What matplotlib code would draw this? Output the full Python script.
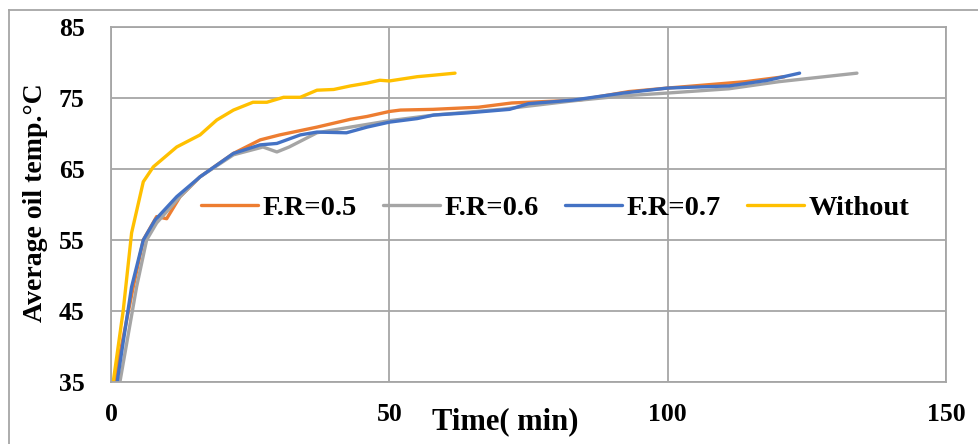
import matplotlib
matplotlib.use("Agg")
import matplotlib.pyplot as plt
from matplotlib.lines import Line2D

# time (min) / average oil temperature (deg C)
t_05 = [0.6, 4, 5.8, 8.2, 10, 12.4, 16, 22, 26.8, 30.3, 37, 43, 46, 50, 52,
        57.8, 66, 72, 84, 93, 100, 114, 121]
T_05 = [35, 48.4, 55, 58.3, 58.0, 61.1, 63.9, 67.2, 69.1, 69.8, 70.9, 72.0,
        72.4, 73.1, 73.3, 73.4, 73.7, 74.3, 74.7, 75.9, 76.4, 77.3, 78.0]

t_06 = [1.6, 4.6, 6.4, 8.2, 12.4, 16, 22, 27.3, 29.8, 32, 37, 43, 50, 58,
        70, 83, 92, 100, 111, 120, 134]
T_06 = [35, 48.4, 55, 57.4, 61.1, 63.9, 67.0, 68.1, 67.4, 68.1, 70.1, 70.9,
        71.8, 72.6, 73.4, 74.6, 75.3, 75.7, 76.3, 77.3, 78.5]

t_07 = [1.1, 3.7, 5.8, 7.9, 11.8, 16, 22, 26.8, 29.8, 34, 37, 42.3, 46, 50,
        55, 58, 64, 71.6, 75, 83, 92, 100, 111, 118, 123.7]
T_07 = [35, 48.4, 55, 57.8, 61.1, 63.9, 67.2, 68.4, 68.6, 69.8, 70.2, 70.1,
        70.9, 71.6, 72.1, 72.6, 72.9, 73.4, 74.2, 74.7, 75.7, 76.4, 76.7,
        77.5, 78.5]

t_wo = [0.4, 2.2, 3.7, 5.8, 7.6, 11.8, 16, 19, 22, 25.5, 28, 31, 34, 37, 40,
        43, 46, 48.3, 50, 55, 57.8, 61.8]
T_wo = [35, 45.1, 56, 63.2, 65.3, 68.1, 69.8, 71.9, 73.3, 74.4, 74.4, 75.1,
        75.1, 76.1, 76.2, 76.7, 77.1, 77.5, 77.4, 78.0, 78.2, 78.5]

labels = ["F.R=0.5", "F.R=0.6", "F.R=0.7", "Without"]
colors = ["#ED7D31", "#A5A5A5", "#4472C4", "#FFC000"]

font = "Liberation Serif"
grid_c = "#a6a6a6"

fig = plt.figure(figsize=(9.79, 4.44), dpi=100)
ax = fig.add_axes([111/979, 1-382/444, 835/979, 355/444])

series = [(t_05, T_05), (t_06, T_06), (t_07, T_07), (t_wo, T_wo)]
for (x, y), lab, c in zip(series, labels, colors):
    ax.plot(x, y, color=c, lw=2.4, label=lab, solid_capstyle="round")

ax.set_xlim(0, 150)
ax.set_ylim(35, 85)
ax.set_xticks([0, 50, 100, 150])
ax.set_yticks([35, 45, 55, 65, 75, 85])
ax.grid(True, color=grid_c, lw=1.3)
ax.set_axisbelow(True)
for s in ax.spines.values():
    s.set_color(grid_c)
    s.set_linewidth(1.3)
ax.tick_params(axis="x", length=0, pad=15)
ax.tick_params(axis="y", length=0, pad=19)
for lab in ax.get_xticklabels() + ax.get_yticklabels():
    lab.set_fontfamily(font)
    lab.set_fontweight("bold")
    lab.set_fontsize(18.5)

ax.legend(loc="center", bbox_to_anchor=(0.532, 0.49), ncol=4, frameon=False,
          prop=dict(family=font, weight="bold", size=20.5),
          handlelength=2.0, handletextpad=0.18, columnspacing=0.9)

fig.text(505/979, 1-422/444, "Time( min)", ha="center", va="center",
         family=font, weight="bold", fontsize=22)
fig.text(36/979, 1-203/444, "Average oil temp.°C", ha="center", va="center",
         rotation=90, family=font, weight="bold", fontsize=20)

# outer chart border
fig.add_artist(Line2D([9/979, 9/979], [0, 1-10/444], color=grid_c, lw=1.3))
fig.add_artist(Line2D([9/979, 1], [1-10/444, 1-10/444], color=grid_c, lw=1.3))

fig.savefig("out.png", dpi=100)
